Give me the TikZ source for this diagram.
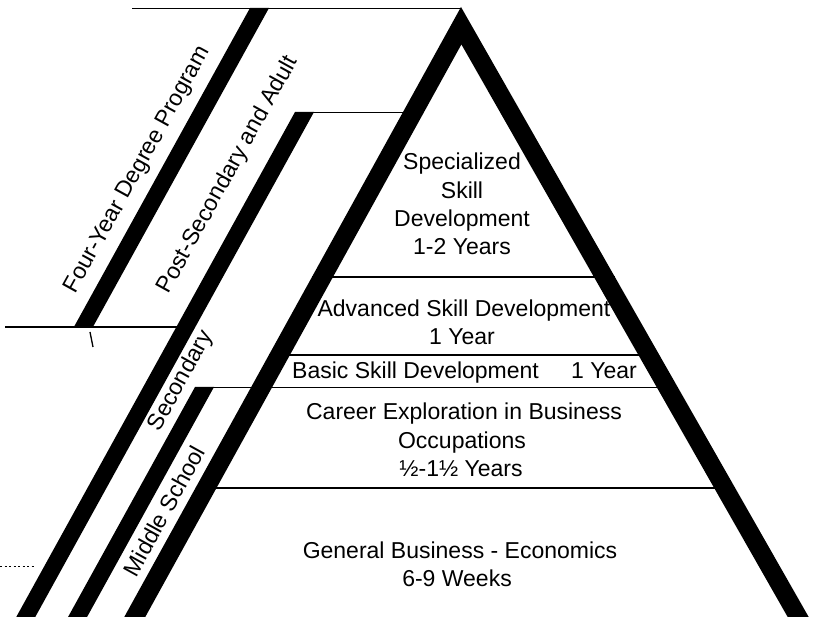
\documentclass[tikz,border=0pt]{standalone}
\usepackage{fontspec}
\setmainfont{Liberation Sans}
\begin{document}
\begin{tikzpicture}[x=1pt,y=-1pt,
  rule/.style={line width=1.8pt},
  band/.style={fill=black},
  txt/.style={font=\fontsize{23}{28}\selectfont, inner sep=0pt},
  txtbase/.style={txt, anchor=base},
  slanted/.style={txt, rotate=61.1}]
\useasboundingbox (0,0) rectangle (814,617);

% pyramid corners (outer and inner outline of the black frame)
\coordinate (apex) at (461,7);
\coordinate (obl) at (122.6,620);
\coordinate (obr) at (810.4,620);
\coordinate (iapex) at (461.4,44.4);
\coordinate (ibl) at (143.6,620);
\coordinate (ibr) at (789.4,620);

% horizontal level rules
\coordinate (top0) at (132,8.5);
\coordinate (top1) at (461,8.5);
\coordinate (ps0) at (295,112.5);
\coordinate (ps1) at (402.8,112.5);
\coordinate (sp0) at (312,277);
\coordinate (sp1) at (614.9,277);
\coordinate (fy0) at (5,327);
\coordinate (fy1) at (176.9,327);
\coordinate (bs0) at (268.9,355);
\coordinate (bs1) at (659.4,355);
\coordinate (ms0) at (195,387.5);
\coordinate (ms1) at (677.9,387.5);
\coordinate (ce0) at (195.5,488);
\coordinate (ce1) at (735.2,488);
\draw[rule] (top0) -- (top1);
\draw[rule] (ps0) -- (ps1);
\draw[rule] (sp0) -- (sp1);
\draw[rule] (fy0) -- (fy1);
\draw[rule] (bs0) -- (bs1);
\draw[rule] (ms0) -- (ms1);
\draw[rule] (ce0) -- (ce1);

% short marks at the left edge
\coordinate (dot0) at (0,566);
\coordinate (dot1) at (35,566);
\draw[line width=1pt, dash pattern=on 2pt off 2.5pt] (dot0) -- (dot1);
\coordinate (tick0) at (90,332);
\coordinate (tick1) at (93,347);
\draw[line width=1.3pt] (tick0) -- (tick1);

% slanted bands
\fill[band] (250,8) -- (269,8) -- (92.9,327) -- (73.9,327) -- cycle;
\fill[band] (295,112) -- (314,112) -- (33.6,620) -- (14.6,620) -- cycle;
\fill[band] (195,387) -- (214,387) -- (85.4,620) -- (66.4,620) -- cycle;

% pyramid frame
\fill[band, even odd rule] (apex) -- (obr) -- (obl) -- cycle
                           (iapex) -- (ibr) -- (ibl) -- cycle;

% slanted program labels
\node[slanted] (fouryear) at (138,170) {Four-Year Degree Program};
\node[slanted] (postsec) at (228,175) {Post-Secondary and Adult};
\node[slanted] (secondary) at (181,381) {Secondary};
\node[slanted] (middle) at (164,511) {Middle School};

% levels inside the pyramid
\node[txtbase] (spec1) at (462,170) {Specialized};
\node[txtbase] (spec2) at (462,199) {Skill};
\node[txtbase] (spec3) at (462,227) {Development};
\node[txtbase] (spec4) at (462,255) {1-2 Years};

\node[txtbase] (adv1) at (464,316.5) {Advanced Skill Development};
\node[txtbase] (adv2) at (462,345) {1 Year};

\node[txt, anchor=base west] (basic1) at (292,379) {Basic Skill Development};
\node[txt, anchor=base east] (basic2) at (637,379) {1 Year};

\node[txtbase] (car1) at (464,419.5) {Career Exploration in Business};
\node[txtbase] (car2) at (462,448) {Occupations};
\node[txtbase] (car3) at (461,476.5) {½-1½ Years};

\node[txtbase] (gen1) at (460,558) {General Business - Economics};
\node[txtbase] (gen2) at (457,586.5) {6-9 Weeks};
\end{tikzpicture}
\end{document}
